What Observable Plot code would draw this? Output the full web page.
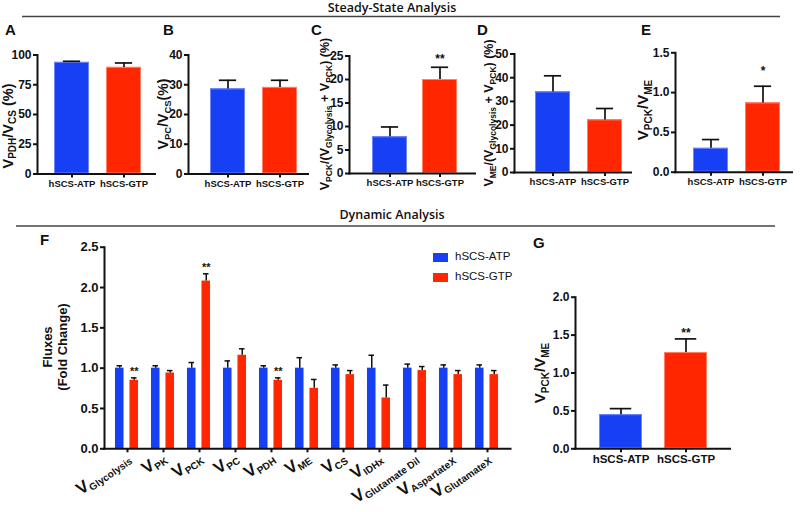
<!DOCTYPE html>
<html>
<head>
<meta charset="utf-8">
<script src="https://cdn.jsdelivr.net/npm/d3@7"></script>
<script src="https://cdn.jsdelivr.net/npm/@observablehq/plot@0.6"></script>
<style>
  html, body { margin: 0; padding: 0; background: #fff; }
  #root { position: relative; width: 800px; height: 512px; overflow: hidden; }
  #root svg.panel { position: absolute; }
  #deco { position: absolute; left: 0; top: 0; }
  .leg { position: absolute; font-family: "Liberation Sans", Arial, sans-serif; font-size: 11.5px; color: #111; white-space: nowrap; }
  .sw { position: absolute; width: 15px; height: 9px; }
  .flab { position: absolute; white-space: nowrap; font-family: "Liberation Sans", Arial, sans-serif; font-weight: bold; color: #111;
          font-size: 17px; line-height: 17px; transform-origin: 100% 14px; transform: rotate(-35deg); }
  .flab span { font-size: 10px; position: relative; top: 3px; }
</style>
</head>
<body>
<div id="root"></div>
<script>
const FONT = '"Liberation Sans", Arial, Helvetica, sans-serif';
const groups = ["hSCS-ATP", "hSCS-GTP"];
const colors = ["#1740f5", "#ff2600"];
const edgeColors = ["#6d86fa", "#ff8068"];

// Steady-state panels A–E: means and SEM
const aMean = [93.8, 89.6], aErr = [0.9, 3.7];
const bMean = [28.6, 29.1], bErr = [2.9, 2.4];
const cMean = [7.8, 20.0], cErr = [2.1, 2.6];
const dMean = [34.0, 22.2], dErr = [6.8, 4.8];
const eMean = [0.30, 0.87], eErr = [0.11, 0.21];
const cStars = ["", "**"];
const eStars = ["", "*"];

// Dynamic panel F
const fluxes = ["Glycolysis", "PK", "PCK", "PC", "PDH", "ME", "CS", "IDHx", "Glutamate Dil", "AspartateX", "GlutamateX"];
const atpMean = [1.0, 1.0, 1.0, 1.0, 1.0, 1.0, 1.0, 1.0, 1.0, 1.0, 1.0];
const atpErr  = [0.03, 0.03, 0.07, 0.09, 0.03, 0.13, 0.04, 0.16, 0.05, 0.04, 0.04];
const gtpMean = [0.85, 0.94, 2.08, 1.16, 0.85, 0.75, 0.92, 0.63, 0.97, 0.92, 0.92];
const gtpErr  = [0.03, 0.03, 0.09, 0.08, 0.03, 0.11, 0.05, 0.16, 0.05, 0.05, 0.05];
const fStars  = ["**", "", "**", "", "**", "", "", "", "", "", ""];
const fTicks = [0, 0.5, 1.0, 1.5, 2.0, 2.5];

// Panel G
const gMean = [0.45, 1.27], gErr = [0.08, 0.18];
const gStars = ["", "**"];

const root = document.getElementById("root");

// decorative overlay: section titles, rules, panel letters
const deco = d3.select(root).append("svg").attr("id", "deco").attr("width", 800).attr("height", 512);
function title(txt, x, y) {
  deco.append("text").attr("x", x).attr("y", y).attr("text-anchor", "middle")
    .attr("font-family", '"Open Sans", sans-serif').attr("font-weight", 600).attr("font-size", 12.5)
    .attr("fill", "#111").text(txt);
}
title("Steady-State Analysis", 392, 12);
deco.append("line").attr("x1", 22).attr("x2", 780).attr("y1", 16.5).attr("y2", 16.5).attr("stroke", "#444").attr("stroke-width", 1.5);
title("Dynamic Analysis", 392, 219);
deco.append("line").attr("x1", 16).attr("x2", 775).attr("y1", 226).attr("y2", 226).attr("stroke", "#444").attr("stroke-width", 1.5);
const letters = [["A", 5, 35], ["B", 163, 35], ["C", 311, 35], ["D", 477, 35], ["E", 641, 35], ["F", 40, 245], ["G", 533, 248]];
for (const [l, x, y] of letters) {
  deco.append("text").attr("x", x).attr("y", y).attr("font-family", FONT).attr("font-weight", "bold")
    .attr("font-size", 15).attr("fill", "#111").text(l);
}

function addLabel(svg, parts, x, y, main, sub) {
  const t = d3.select(svg).append("text")
    .attr("transform", `translate(${x},${y}) rotate(-90)`)
    .attr("text-anchor", "middle").attr("font-family", FONT).attr("font-weight", "bold")
    .attr("font-size", main).attr("fill", "#111").style("white-space", "pre");
  let shifted = false;
  const sh = main * 0.24;
  for (const [s, k] of parts) {
    const ts = t.append("tspan").text(s);
    if (k === "sub") {
      ts.attr("font-size", sub);
      if (!shifted) { ts.attr("dy", sh); shifted = true; }
    } else {
      ts.attr("font-size", main);
      if (shifted) { ts.attr("dy", -sh); shifted = false; }
    }
  }
}

function place(svg, box) {
  svg.classList.add("panel");
  svg.style.left = box[0] + "px";
  svg.style.top = box[1] + "px";
  root.appendChild(svg);
}

function barPanel(p) {
  const [bx, by, bw, bh] = p.box;
  const data = groups.map((g, i) => ({g, v: p.mean[i], hi: p.mean[i] + p.err[i], s: p.stars ? p.stars[i] : ""}));
  const barW = p.barW;
  const step = (p.barR - p.barL) - barW;
  const capInset = barW / 4;
  const svg = Plot.plot({
    width: bw, height: bh,
    marginLeft: p.ax - bx, marginRight: bx + bw - p.xEnd,
    marginTop: p.yTop - by, marginBottom: by + bh - p.y0,
    style: {background: "transparent", fontFamily: FONT, fontWeight: "bold", color: "#111", overflow: "visible"},
    x: {domain: groups, range: [p.barL - bx, p.barR - bx], paddingInner: 1 - barW / step, paddingOuter: 0, label: null},
    y: {domain: [0, p.max], label: null},
    color: {domain: groups, range: colors},
    marks: [
      Plot.barY(data, {x: "g", y: "v", fill: "g"}),
      Plot.barY(data, {x: "g", y: "v", fill: "none", stroke: (d, i) => edgeColors[i], strokeWidth: 1, inset: 0.5}),
      Plot.ruleX(data, {x: "g", y1: "v", y2: "hi", stroke: "#111", strokeWidth: 1.7}),
      Plot.tickY(data, {x: "g", y: "hi", stroke: "#111", strokeWidth: 1.7, insetLeft: capInset, insetRight: capInset}),
      Plot.text(data, {x: "g", y: "hi", text: "s", dy: p.starDy || 0, fontSize: 12, fontWeight: "bold", fill: "#111"}),
      Plot.ruleY([0], {stroke: "#111", strokeWidth: 2, strokeLinecap: "square"}),
      Plot.frame({anchor: "left", stroke: "#111", strokeWidth: 2}),
      Plot.axisY({ticks: p.ticks, tickFormat: p.fmt, tickSize: 4, tickPadding: 2, stroke: "#111", strokeWidth: 2, fontSize: p.yFont || 12, label: null}),
      Plot.axisX({tickSize: 4, tickPadding: 2, stroke: "#111", strokeWidth: 2, fontSize: p.xFont || 9.5, label: null})
    ]
  });
  addLabel(svg, p.label, p.lx - bx, p.ly - by, p.lsize, p.ssize);
  place(svg, p.box);
}

const intFmt = d3.format("d");
const decFmt = d3.format(".1f");

barPanel({box: [0, 20, 157, 185], ax: 37, xEnd: 155, yTop: 54.5, y0: 173.5, barL: 54, barR: 142, barW: 35.5,
  max: 100, ticks: [0, 25, 50, 75, 100], fmt: intFmt, mean: aMean, err: aErr,
  label: [["V"], ["PDH", "sub"], ["/V"], ["CS", "sub"], [" (%)"]], lx: 13, ly: 126, lsize: 14.5, ssize: 10});
barPanel({box: [157, 20, 160, 185], ax: 188, xEnd: 308, yTop: 54.5, y0: 173.5, barL: 210, barR: 298, barW: 35.5,
  max: 40, ticks: [0, 10, 20, 30, 40], fmt: intFmt, mean: bMean, err: bErr,
  label: [["V"], ["PC", "sub"], ["/V"], ["CS", "sub"], ["(%)"]], lx: 168, ly: 114, lsize: 14, ssize: 9.5});
barPanel({box: [317, 20, 160, 185], ax: 349, xEnd: 475, yTop: 55.5, y0: 173, barL: 372, barR: 458, barW: 35.5,
  max: 25, ticks: [0, 5, 10, 15, 20, 25], fmt: intFmt, mean: cMean, err: cErr, stars: cStars, starDy: -8,
  label: [["V"], ["PCK", "sub"], ["/(V"], ["Glycolysis", "sub"], [" + V"], ["PCK", "sub"], [") (%)"]], lx: 329, ly: 114, lsize: 12.5, ssize: 8.5});
barPanel({box: [477, 20, 156, 185], ax: 514, xEnd: 631, yTop: 53.5, y0: 172, barL: 535, barR: 623, barW: 35.5,
  max: 50, ticks: [0, 10, 20, 30, 40, 50], fmt: intFmt, mean: dMean, err: dErr,
  label: [["V"], ["ME", "sub"], ["/(V"], ["Glycolysis", "sub"], [" + V"], ["PCK", "sub"], [") (%)"]], lx: 493, ly: 113, lsize: 12.5, ssize: 8.5});
barPanel({box: [633, 20, 167, 185], ax: 675, xEnd: 792, yTop: 52.3, y0: 171.7, barL: 693, barR: 781, barW: 35.5,
  max: 1.5, ticks: [0, 0.5, 1.0, 1.5], fmt: decFmt, mean: eMean, err: eErr, stars: eStars, starDy: -15,
  label: [["V"], ["PCK", "sub"], ["/V"], ["ME", "sub"]], lx: 648, ly: 110, lsize: 15, ssize: 10});
barPanel({box: [520, 228, 280, 284], ax: 575, xEnd: 730, yTop: 296.7, y0: 448.3, barL: 599, barR: 707, barW: 43,
  max: 2.0, ticks: [0, 0.5, 1.0, 1.5, 2.0], fmt: decFmt, mean: gMean, err: gErr, stars: gStars, starDy: -6,
  yFont: 12, xFont: 11.5,
  label: [["V"], ["PCK", "sub"], ["/V"], ["ME", "sub"]], lx: 545, ly: 373, lsize: 15, ssize: 10});

// Panel F
(function () {
  const box = [0, 228, 520, 284];
  const [bx, by, bw, bh] = box;
  const ax = 104, xEnd = 510.5, yTop = 246.7, y0 = 448.3;
  const band = (xEnd - ax) / fluxes.length;
  const c = band / 2;
  const rows = fluxes.map((f, i) => ({f, a: atpMean[i], ah: atpMean[i] + atpErr[i], g: gtpMean[i], gh: gtpMean[i] + gtpErr[i], s: fStars[i]}));
  const bw9 = 9.5;
  const blueL = c - 12.5, redL = c + 2;
  const blueC = blueL + bw9 / 2, redC = redL + bw9 / 2;
  const cap = 6.5;
  const svg = Plot.plot({
    width: bw, height: bh,
    marginLeft: ax - bx, marginRight: bx + bw - xEnd,
    marginTop: yTop - by, marginBottom: by + bh - y0,
    style: {background: "transparent", fontFamily: FONT, fontWeight: "bold", color: "#111", overflow: "visible"},
    x: {domain: fluxes, range: [0, xEnd - ax].map(v => v + ax - bx), padding: 0, label: null},
    y: {domain: [0, 2.5], label: null},
    marks: [
      Plot.barY(rows, {x: "f", y: "a", fill: colors[0], insetLeft: blueL, insetRight: band - blueL - bw9}),
      Plot.barY(rows, {x: "f", y: "g", fill: colors[1], insetLeft: redL, insetRight: band - redL - bw9}),
      Plot.ruleX(rows, {x: "f", y1: "a", y2: "ah", dx: blueC - c, stroke: "#111", strokeWidth: 1.5}),
      Plot.ruleX(rows, {x: "f", y1: "g", y2: "gh", dx: redC - c, stroke: "#111", strokeWidth: 1.5}),
      Plot.tickY(rows, {x: "f", y: "ah", stroke: "#111", strokeWidth: 1.5, insetLeft: blueC - cap / 2, insetRight: band - blueC - cap / 2}),
      Plot.tickY(rows, {x: "f", y: "gh", stroke: "#111", strokeWidth: 1.5, insetLeft: redC - cap / 2, insetRight: band - redC - cap / 2}),
      Plot.text(rows, {x: "f", y: "gh", text: "s", dx: redC - c, dy: -6, fontSize: 11, fontWeight: "bold", fill: "#111"}),
      Plot.ruleY([0], {stroke: "#111", strokeWidth: 2, strokeLinecap: "square"}),
      Plot.frame({anchor: "left", stroke: "#111", strokeWidth: 2}),
      Plot.axisY({ticks: fTicks, tickFormat: decFmt, tickSize: 4, tickPadding: 2, stroke: "#111", strokeWidth: 2, fontSize: 13, label: null}),
      Plot.axisX({tickSize: 4, tickFormat: () => "", stroke: "#111", strokeWidth: 2, label: null})
    ]
  });
  const g = d3.select(svg);
  [["Fluxes", 52], ["(Fold Change)", 67]].forEach(([txt, x]) => {
    g.append("text").attr("transform", `translate(${x - bx},${347 - by}) rotate(-90)`)
      .attr("text-anchor", "middle").attr("font-family", FONT).attr("font-weight", "bold")
      .attr("font-size", 13).attr("fill", "#111").text(txt);
  });
  place(svg, box);
  // rotated tick labels with subscripts, positioned from Plot's own x scale
  const sx = svg.scale("x");
  fluxes.forEach((f, i) => {
    const cx = (sx && sx.apply ? sx.apply(f) + (sx.bandwidth || 0) / 2 : ax - bx + (i + 0.5) * band);
    const anchorX = bx + cx + 4, anchorY = y0 + 12;
    const div = document.createElement("div");
    div.className = "flab";
    div.style.right = (800 - anchorX) + "px";
    div.style.top = (anchorY - 14) + "px";
    div.appendChild(document.createTextNode("V"));
    const sp = document.createElement("span");
    sp.textContent = f;
    div.appendChild(sp);
    root.appendChild(div);
  });
})();

// legend for F
const legend = [[groups[0], colors[0], 253], [groups[1], colors[1], 272.5]];
for (const [name, col, y] of legend) {
  const sw = document.createElement("div");
  sw.className = "sw"; sw.style.left = "433px"; sw.style.top = y + "px"; sw.style.background = col;
  root.appendChild(sw);
  const tx = document.createElement("div");
  tx.className = "leg"; tx.style.left = "455px"; tx.style.top = (y - 3) + "px"; tx.textContent = name;
  root.appendChild(tx);
}
</script>
</body>
</html>
